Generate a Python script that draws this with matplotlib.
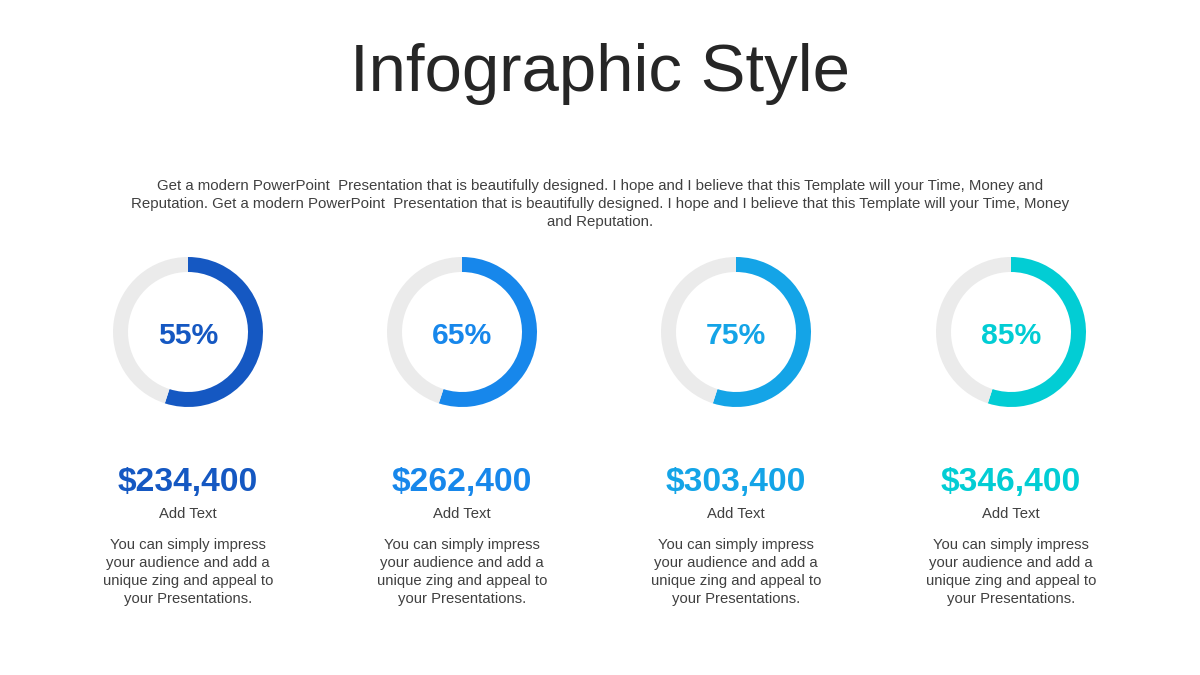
import matplotlib
matplotlib.use("Agg")
import matplotlib.pyplot as plt

plt.rcParams['font.family'] = 'sans-serif'
plt.rcParams['font.sans-serif'] = ['Liberation Sans', 'Arial', 'DejaVu Sans']

# ---- data ----
title = "Infographic Style"
intro_lines = [
    "Get a modern PowerPoint  Presentation that is beautifully designed. I hope and I believe that this Template will your Time, Money and",
    "Reputation. Get a modern PowerPoint  Presentation that is beautifully designed. I hope and I believe that this Template will your Time, Money",
    "and Reputation.",
]
percent_labels = [55, 65, 75, 85]
arc_shown = [55, 55, 55, 55]          # arc length as drawn in the reference (%)
amounts = [234400, 262400, 303400, 346400]
subtitles = ["Add Text"] * 4
desc_lines = ["You can simply impress", "your audience and add a",
              "unique zing and appeal to", "your Presentations."]
colors = ["#1558C2", "#1787EB", "#14A4E7", "#02CDD4"]
track_color = "#EBEBEB"
text_color = "#404040"

W, H = 1200, 675
fig = plt.figure(figsize=(12, 6.75), dpi=100)
fig.patch.set_facecolor("white")
ax = fig.add_axes([0, 0, 1, 1])
ax.set_xlim(0, W)
ax.set_ylim(H, 0)
ax.axis("off")

ax.text(600, 91, title, ha="center", va="baseline", fontsize=48.3, color="#262626")
for i, line in enumerate(intro_lines):
    ax.text(600, 190 + 18 * i, line, ha="center", va="baseline", fontsize=10.8, color=text_color)

centers_x = [188, 462, 736, 1011]
cy, r_out, ring = 332, 75, 15
for i, cx in enumerate(centers_x):
    pax = fig.add_axes([(cx - r_out) / W, (H - cy - r_out) / H, 2 * r_out / W, 2 * r_out / H])
    pax.pie([arc_shown[i], 100 - arc_shown[i]], colors=[colors[i], track_color],
            startangle=90, counterclock=False,
            wedgeprops=dict(width=ring / r_out, linewidth=0))
    pax.set_xlim(-1, 1)
    pax.set_ylim(-1, 1)
    pax.set_aspect("equal")
    pax.axis("off")

    ax.text(cx, 344, f"{percent_labels[i]}%", ha="center", va="baseline",
            fontsize=21.7, fontweight="bold", color=colors[i])
    ax.text(cx, 491, f"${amounts[i]:,}", ha="center", va="baseline",
            fontsize=24.2, fontweight="bold", color=colors[i])
    ax.text(cx, 518, subtitles[i], ha="center", va="baseline", fontsize=10.7, color=text_color)
    for j, dl in enumerate(desc_lines):
        ax.text(cx, 549 + 18 * j, dl, ha="center", va="baseline", fontsize=10.75, color=text_color)

fig.savefig("out.png", dpi=100, facecolor="white")
